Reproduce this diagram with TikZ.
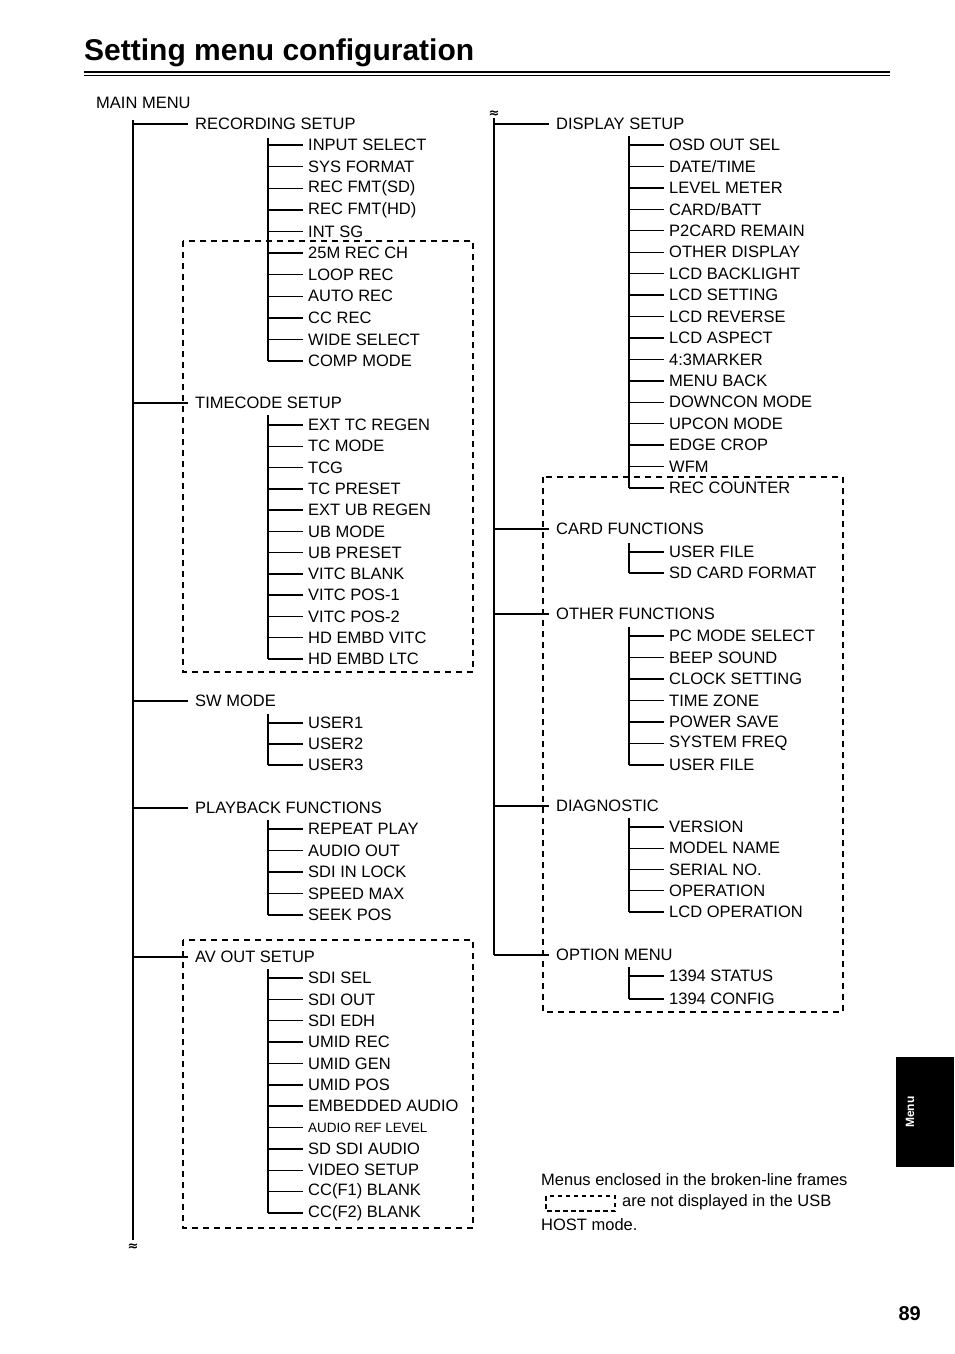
\documentclass[tikz,border=0pt]{standalone}
\usepackage{fontspec}
\setmainfont{Liberation Sans}
\newfontfamily\djv{DejaVu Sans}
\begin{document}
\begin{tikzpicture}[x=1pt,y=-1pt,
  lbl/.style={anchor=west,inner sep=0pt,font=\fontsize{16.5}{18}\selectfont},
  ln/.style={line width=1.4pt},
  dbox/.style={line width=1.6pt,dash pattern=on 6pt off 5pt}]
\useasboundingbox (0,0) rectangle (954,1354);
\node[anchor=base west,inner sep=0pt,font=\fontsize{30}{34}\bfseries\selectfont] (title) at (84,61) {Setting menu configuration};
\draw[line width=2pt] (84,72) -- (890,72);
\draw[line width=0.8pt] (84,75.5) -- (890,75.5);
\node[lbl] (main) at (96,103) {MAIN MENU};
% trunks
\draw[ln] (133,120) -- (133,1240);
\draw[ln] (494,118) -- (494,955);
\node[font=\djv\bfseries\fontsize{13}{13}\selectfont,inner sep=0pt] (w1) at (133,1247) {≈};
\node[font=\djv\bfseries\fontsize{13}{13}\selectfont,inner sep=0pt] (w2) at (494,114) {≈};
% level-1 branches
\foreach \x/\y/\t/\n in {133/124/RECORDING SETUP/a,133/403/TIMECODE SETUP/b,133/701/SW MODE/c,133/808/PLAYBACK FUNCTIONS/d,133/957/AV OUT SETUP/e,494/124/DISPLAY SETUP/f,494/529/CARD FUNCTIONS/g,494/614/OTHER FUNCTIONS/h,494/806/DIAGNOSTIC/i,494/955/OPTION MENU/j}{
  \node[lbl] (L\n) at (\x+62,\y) {\t};
  \draw[ln] (\x,\y) -- (\x+55,\y);
}
% children: x0, first y, step, count, list
\newcommand\kids[4]{%
  \foreach \t [count=\k] in {#4}{
    \pgfmathsetmacro\yy{#2+(\k-1)*#3}
    \node[lbl] (K#1\yy) at (#1+40,\yy) {\t};
    \draw[ln] (#1,\yy) -- (#1+35,\yy);
    \xdef\lasty{\yy}
  }
}
\kids{268}{145}{21.6}{INPUT SELECT,SYS FORMAT,REC FMT(SD),REC FMT(HD),INT SG,25M REC CH,LOOP REC,AUTO REC,CC REC,WIDE SELECT,COMP MODE}
\draw[ln] (268,138) -- (268,\lasty);
\kids{268}{425}{21.27}{EXT TC REGEN,TC MODE,TCG,TC PRESET,EXT UB REGEN,UB MODE,UB PRESET,VITC BLANK,VITC POS-1,VITC POS-2,HD EMBD VITC,HD EMBD LTC}
\draw[ln] (268,415) -- (268,\lasty);
\kids{268}{723}{21}{USER1,USER2,USER3}
\draw[ln] (268,714) -- (268,\lasty);
\kids{268}{829}{21.5}{REPEAT PLAY,AUDIO OUT,SDI IN LOCK,SPEED MAX,SEEK POS}
\draw[ln] (268,820) -- (268,\lasty);
\kids{268}{978}{21.36}{SDI SEL,SDI OUT,SDI EDH,UMID REC,UMID GEN,UMID POS,EMBEDDED AUDIO,{\fontsize{13.5}{15}\selectfont AUDIO REF LEVEL},SD SDI AUDIO,VIDEO SETUP,CC(F1) BLANK,CC(F2) BLANK}
\draw[ln] (268,969) -- (268,\lasty);
\kids{629}{145}{21.44}{OSD OUT SEL,DATE/TIME,LEVEL METER,CARD/BATT,P2CARD REMAIN,OTHER DISPLAY,LCD BACKLIGHT,LCD SETTING,LCD REVERSE,LCD ASPECT,4:3MARKER,MENU BACK,DOWNCON MODE,UPCON MODE,EDGE CROP,WFM,REC COUNTER}
\draw[ln] (629,136) -- (629,\lasty);
\kids{629}{552}{21}{USER FILE,SD CARD FORMAT}
\draw[ln] (629,543) -- (629,\lasty);
\kids{629}{636}{21.5}{PC MODE SELECT,BEEP SOUND,CLOCK SETTING,TIME ZONE,POWER SAVE,SYSTEM FREQ,USER FILE}
\draw[ln] (629,627) -- (629,\lasty);
\kids{629}{827}{21.25}{VERSION,MODEL NAME,SERIAL NO.,OPERATION,LCD OPERATION}
\draw[ln] (629,818) -- (629,\lasty);
\kids{629}{976}{23}{1394 STATUS,1394 CONFIG}
\draw[ln] (629,967) -- (629,\lasty);
% dashed frames
\draw[dbox] (183,241) rectangle (473,672);
\draw[dbox] (183,940) rectangle (473,1228);
\draw[dbox] (543,477) rectangle (843,1012);
% legend
\node[lbl] (n1) at (541,1180) {Menus enclosed in the broken-line frames};
\draw[line width=1.2pt,dash pattern=on 4.5pt off 3.5pt] (546,1196) rectangle (615,1211);
\node[lbl] (n2) at (622,1202) {are not displayed in the USB};
\node[lbl] (n3) at (541,1225) {HOST mode.};
% tab
\fill (896,1057) rectangle (954,1167);
\node[rotate=90,text=white,font=\bfseries\fontsize{12}{12}\selectfont,inner sep=0pt] (tab) at (910,1112) {Menu};
\node[anchor=base east,inner sep=0pt,font=\bfseries\fontsize{20}{22}\selectfont] (pg) at (921,1320) {89};
\end{tikzpicture}
\end{document}
